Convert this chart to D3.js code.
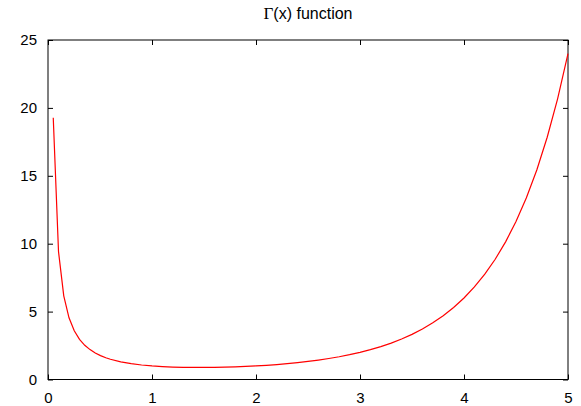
<!DOCTYPE html>
<html>
<head>
<meta charset="utf-8">
<script src="https://cdn.jsdelivr.net/npm/d3@7"></script>
<style>
  body { margin: 0; background: #fff; }
  svg { display: block; }
  .axis path { display: none; }
  .axis line { stroke: #000; stroke-width: 1; }
  .axis text { font-family: "Liberation Sans", Arial, sans-serif; font-size: 15px; fill: #000; }
</style>
</head>
<body>
<svg id="chart"></svg>
<script>
// sample positions and Γ(x) values
const xValues = [
  0.0505, 0.101, 0.1515, 0.202, 0.2525, 0.303, 0.3535, 0.404, 0.4545, 0.5051, 0.5556,
  0.6, 0.7, 0.8, 0.9, 1.0, 1.1, 1.2, 1.3, 1.4, 1.5, 1.6, 1.7, 1.8, 1.9, 2.0,
  2.1, 2.2, 2.3, 2.4, 2.5, 2.6, 2.7, 2.8, 2.9, 3.0, 3.1, 3.2, 3.3, 3.4, 3.5,
  3.6, 3.7, 3.8, 3.9, 4.0, 4.1, 4.2, 4.3, 4.4, 4.5, 4.6, 4.7, 4.8, 4.9, 5.0
];
const gammaValues = [
  19.27, 9.42, 6.16, 4.54, 3.59, 2.96, 2.52, 2.20, 1.95, 1.76, 1.60,
  1.489, 1.298, 1.164, 1.069, 1.0, 0.951, 0.918, 0.898, 0.887, 0.886, 0.894, 0.909, 0.931, 0.962, 1.0,
  1.047, 1.102, 1.167, 1.242, 1.329, 1.430, 1.545, 1.677, 1.827, 2.0, 2.198, 2.424, 2.683, 2.981, 3.323,
  3.717, 4.171, 4.694, 5.300, 6.0, 6.813, 7.757, 8.855, 10.136, 11.632, 13.381, 15.432, 17.838, 20.668, 24.0
];
const xTicks = [0, 1, 2, 3, 4, 5];
const yTicks = [0, 5, 10, 15, 20, 25];

const width = 581, height = 406;
const margin = { top: 40, right: 13, bottom: 26.5, left: 48 };
const innerW = width - margin.left - margin.right;
const innerH = height - margin.top - margin.bottom;

const svg = d3.select("#chart").attr("width", width).attr("height", height);
const g = svg.append("g").attr("transform", `translate(${margin.left},${margin.top})`);

const x = d3.scaleLinear().domain([0, 5]).range([0, innerW]);
const y = d3.scaleLinear().domain([0, 25]).range([innerH, 0]);

const TICK = 5;

// bottom axis with labels, ticks pointing inward
g.append("g")
  .attr("class", "axis")
  .attr("transform", `translate(0,${innerH})`)
  .call(d3.axisBottom(x).tickValues(xTicks).tickFormat(d3.format("d")).tickSize(-TICK).tickPadding(13));

// top mirror ticks
g.append("g")
  .attr("class", "axis")
  .call(d3.axisTop(x).tickValues(xTicks).tickFormat("").tickSize(-TICK));

// left axis with labels
g.append("g")
  .attr("class", "axis")
  .call(d3.axisLeft(y).tickValues(yTicks).tickFormat(d3.format("d")).tickSize(-TICK).tickPadding(11));

// right mirror ticks
g.append("g")
  .attr("class", "axis")
  .attr("transform", `translate(${innerW},0)`)
  .call(d3.axisRight(y).tickValues(yTicks).tickFormat("").tickSize(-TICK));

// frame
g.append("rect")
  .attr("x", 0).attr("y", 0)
  .attr("width", innerW).attr("height", innerH)
  .attr("fill", "none")
  .attr("stroke", "#000")
  .attr("stroke-width", 1);

// the curve
const data = xValues.map((v, i) => [v, gammaValues[i]]);
const line = d3.line()
  .x(d => x(d[0]))
  .y(d => y(d[1]));

g.append("path")
  .datum(data)
  .attr("d", line)
  .attr("fill", "none")
  .attr("stroke", "#ff0000")
  .attr("stroke-width", 1.2);

// title
const title = svg.append("text")
  .attr("x", margin.left + innerW / 2)
  .attr("y", 19)
  .attr("text-anchor", "middle")
  .style("font-family", "Liberation Sans, Arial, sans-serif")
  .style("font-size", "16px")
  .style("fill", "#000");
title.append("tspan").style("font-family", "Liberation Serif, Times New Roman, serif").style("font-size", "17px").text("Γ");
title.append("tspan").text("(x) function");
</script>
</body>
</html>
